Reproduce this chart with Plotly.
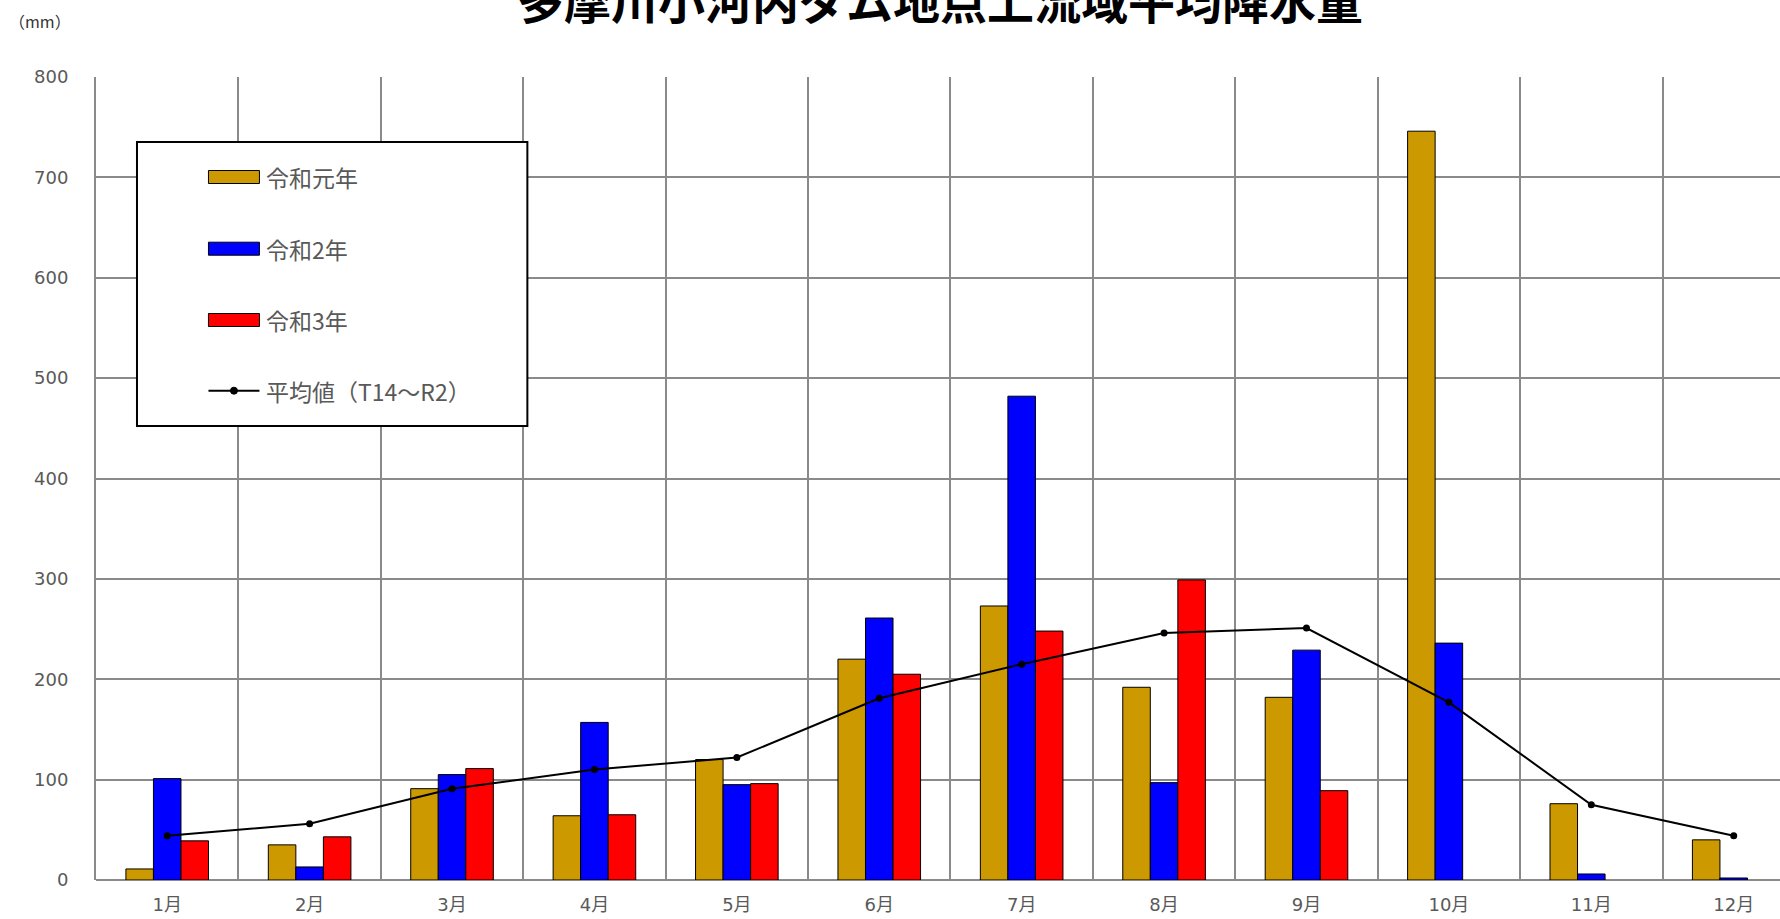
import plotly.graph_objects as go

# Monthly basin-average precipitation (mm) upstream of Ogouchi Dam, Tama River
months = ["1月", "2月", "3月", "4月", "5月", "6月", "7月", "8月", "9月", "10月", "11月", "12月"]
r1_values = [11, 35, 91, 64, 120, 220, 273, 192, 182, 746, 76, 40]
r2_values = [101, 13, 105, 157, 95, 261, 482, 97, 229, 236, 6, 2]
r3_values = [39, 43, 111, 65, 96, 205, 248, 299, 89, None, None, None]
avg_values = [44, 56, 91, 110, 122, 181, 215, 246, 251, 177, 75, 44]

series_names = ["令和元年", "令和2年", "令和3年", "平均値（T14～R2）"]
bar_colors = ["#CC9900", "#0000FF", "#FF0000"]

W, H = 1780, 919
PLOT_L, PLOT_R, PLOT_T, PLOT_B = 95.5, 1780, 77, 880
FONT = "DejaVu Sans, Noto Sans CJK JP, sans-serif"
JP_FONT = "Noto Sans CJK JP, sans-serif"
GRID = "#8a8a8a"
TEXT = "#595959"


def xp(px):
    return (px - PLOT_L) / (PLOT_R - PLOT_L)


def yp(py):
    return (PLOT_B - py) / (PLOT_B - PLOT_T)


fig = go.Figure()
for name, vals, col in zip(series_names[:3], [r1_values, r2_values, r3_values], bar_colors):
    fig.add_trace(go.Bar(
        x=months, y=vals, name=name,
        marker=dict(color=col, line=dict(color="black", width=1)),
        showlegend=False,
    ))

fig.add_trace(go.Scatter(
    x=months, y=avg_values, name=series_names[3], mode="lines+markers",
    line=dict(color="black", width=2),
    marker=dict(color="black", size=7),
    showlegend=False,
))

# Hand-drawn legend box with wide swatches
shapes = [dict(type="rect", xref="paper", yref="paper",
               x0=xp(136.5), x1=xp(527), y0=yp(426), y1=yp(142),
               line=dict(color="black", width=2), fillcolor="white", layer="above")]
annotations = []
rows = [177, 248.7, 320, 390.7]
for i, (name, ry) in enumerate(zip(series_names, rows)):
    if i < 3:
        shapes.append(dict(type="rect", xref="paper", yref="paper",
                           x0=xp(208), x1=xp(259), y0=yp(ry + 6.5), y1=yp(ry - 6.5),
                           line=dict(color="black", width=1), fillcolor=bar_colors[i],
                           layer="above"))
    else:
        shapes.append(dict(type="line", xref="paper", yref="paper",
                           x0=xp(208), x1=xp(259), y0=yp(ry), y1=yp(ry),
                           line=dict(color="black", width=2), layer="above"))
        shapes.append(dict(type="circle", xref="paper", yref="paper",
                           x0=xp(230), x1=xp(237), y0=yp(ry + 3.5), y1=yp(ry - 3.5),
                           line=dict(color="black", width=1), fillcolor="black",
                           layer="above"))
    annotations.append(dict(text=name, xref="paper", yref="paper",
                            x=xp(264), y=yp(ry), xanchor="left", yanchor="middle",
                            showarrow=False,
                            font=dict(family=JP_FONT, size=23, color=TEXT)))

# Title and unit label
annotations.append(dict(text="<b>多摩川小河内ダム地点上流域平均降水量</b>",
                        xref="paper", yref="paper", x=xp(940), y=yp(-2),
                        xanchor="center", yanchor="middle", showarrow=False,
                        font=dict(family=JP_FONT, size=47, color="black")))
annotations.append(dict(text="（mm）", xref="paper", yref="paper",
                        x=xp(6), y=yp(21), xanchor="left", yanchor="middle",
                        showarrow=False,
                        font=dict(family=JP_FONT, size=16, color="#333333")))

fig.update_layout(
    width=W, height=H,
    margin=dict(l=PLOT_L, r=0, t=PLOT_T, b=H - PLOT_B, pad=0),
    paper_bgcolor="white", plot_bgcolor="white",
    barmode="group", bargap=0.42, bargroupgap=0,
    shapes=shapes, annotations=annotations,
    xaxis=dict(
        type="category", range=[-0.5, 11.325], tickson="boundaries",
        showgrid=True, gridcolor=GRID, gridwidth=1.5,
        showline=False, ticks="", ticklabelstandoff=12,
        tickfont=dict(family=FONT, size=18, color=TEXT),
        zeroline=False,
    ),
    yaxis=dict(
        range=[0, 800], dtick=100, showgrid=True, gridcolor=GRID, gridwidth=1.5,
        showline=True, linecolor=GRID, linewidth=2,
        zeroline=True, zerolinecolor=GRID, zerolinewidth=2,
        ticks="", ticklabelstandoff=22,
        tickfont=dict(family=FONT, size=18, color=TEXT),
    ),
)

fig.write_html("out.html")
